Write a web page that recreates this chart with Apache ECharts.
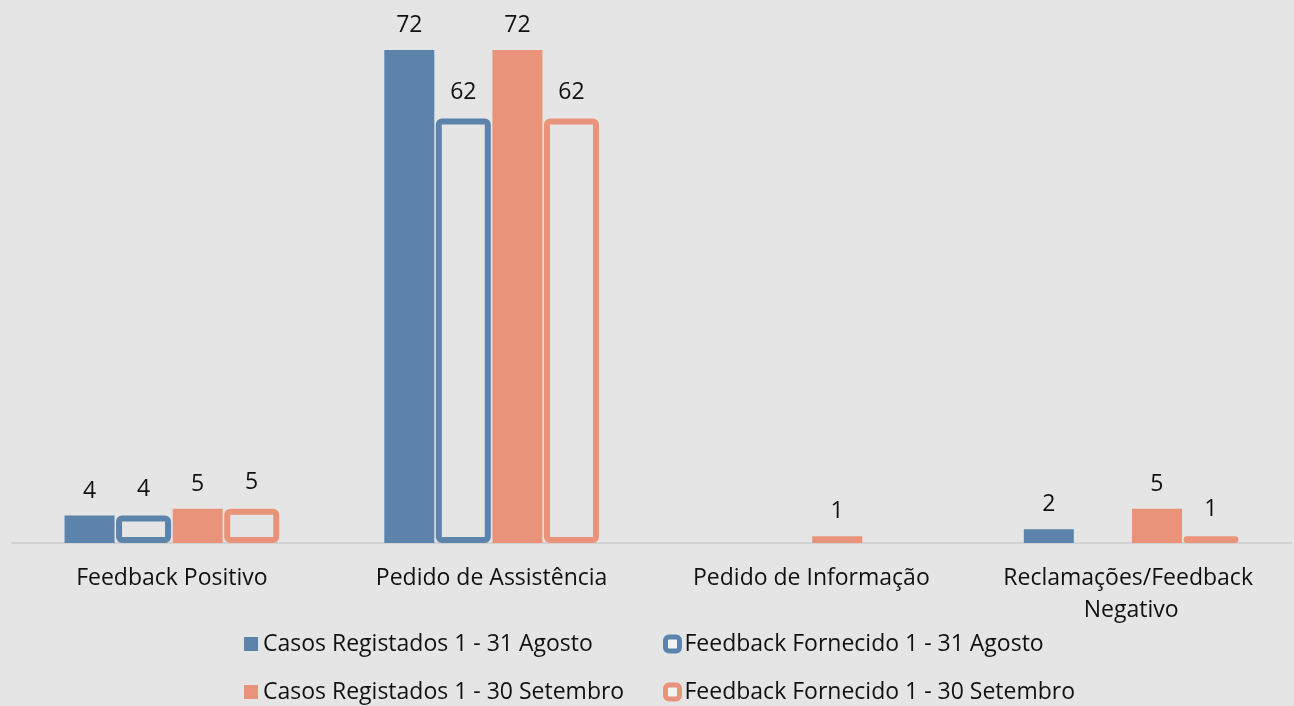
<!DOCTYPE html>
<html>
<head>
<meta charset="utf-8">
<script src="https://cdn.jsdelivr.net/npm/echarts@6/dist/echarts.min.js"></script>
<style>
  html, body { margin: 0; padding: 0; background: #e5e5e5; }
  #chart { width: 1294px; height: 706px; }
</style>
</head>
<body>
<div id="chart"></div>
<script>
// categories and values
const categories = ["Feedback Positivo", "Pedido de Assistência", "Pedido de Informação", "Reclamações/Feedback Negativo"];
const seriesNames = [
  "Casos Registados 1 - 31 Agosto",
  "Feedback Fornecido 1 - 31 Agosto",
  "Casos Registados 1 - 30 Setembro",
  "Feedback Fornecido 1 - 30 Setembro"
];
const casosAgosto = [4, 72, null, 2];
const feedbackAgosto = [4, 62, null, null];
const casosSetembro = [5, 72, 1, 5];
const feedbackSetembro = [5, 62, null, 1];

const blue = "#5b83ab";
const salmon = "#e9947a";
const bg = "#e5e5e5";
const font = "Open Sans";
const fs = 23;

const chart = echarts.init(document.getElementById("chart"));

const labelStyle = { show: true, position: "top", distance: 13, color: "#111", fontSize: fs, fontFamily: font };

// solid bar
function solid(name, data, color) {
  return {
    name: name,
    type: "bar",
    data: data,
    barWidth: 50,
    barGap: "3%",
    itemStyle: { color: color },
    label: labelStyle
  };
}
// outlined bar (no fill), border is drawn inside the bar so make it a bit wider
function outline(name, data, color) {
  return {
    name: name,
    type: "bar",
    data: data,
    barWidth: 55,
    barGap: "3%",
    itemStyle: { color: "rgba(0,0,0,0)", borderColor: color, borderWidth: 6, borderRadius: 3 },
    label: Object.assign({}, labelStyle, { distance: 15 })
  };
}

const option = {
  backgroundColor: bg,
  animation: false,
  grid: { left: 12, right: 2, top: 50, bottom: 163 },
  xAxis: {
    type: "category",
    data: categories,
    axisLine: { lineStyle: { color: "#d2d2d2", width: 2 } },
    axisTick: { show: false },
    axisLabel: {
      color: "#111", fontSize: fs, fontFamily: font, margin: 19,
      lineHeight: 32, width: 320, overflow: "break", interval: 0
    }
  },
  yAxis: { type: "value", min: 0, max: 72, show: false, splitLine: { show: false } },
  legend: {
    left: 239, top: 619, width: 870,
    itemWidth: 14, itemHeight: 14, itemGap: 8,
    textStyle: { color: "#111", fontSize: fs, fontFamily: font, width: 392, lineHeight: 40 },
    data: [
      { name: seriesNames[0], icon: "rect", itemStyle: { color: blue, borderWidth: 0 } },
      { name: seriesNames[1], icon: "roundRect", itemStyle: { color: "#f2f2f2", borderColor: blue, borderWidth: 5 } },
      { name: seriesNames[2], icon: "rect", itemStyle: { color: salmon, borderWidth: 0 } },
      { name: seriesNames[3], icon: "roundRect", itemStyle: { color: "#f2f2f2", borderColor: salmon, borderWidth: 5 } }
    ]
  },
  series: [
    solid(seriesNames[0], casosAgosto, blue),
    outline(seriesNames[1], feedbackAgosto, blue),
    solid(seriesNames[2], casosSetembro, salmon),
    outline(seriesNames[3], feedbackSetembro, salmon)
  ]
};

chart.setOption(option);
</script>
</body>
</html>
